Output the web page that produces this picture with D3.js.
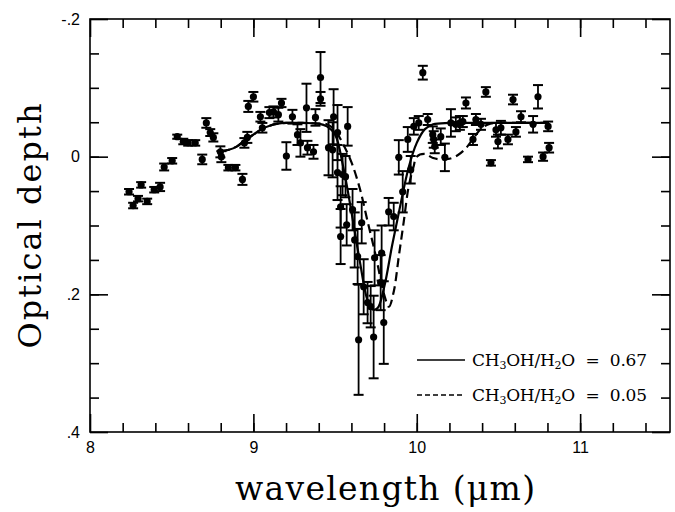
<!DOCTYPE html>
<html>
<head>
<meta charset="utf-8">
<script src="https://cdn.jsdelivr.net/npm/d3@7"></script>
<style>
body { margin: 0; background: #fff; }
</style>
</head>
<body>
<div id="chart"></div>
<script>
const wavelength = [8.239, 8.264, 8.313, 8.294, 8.350, 8.393, 8.429, 8.454, 8.503, 8.534,
    8.571, 8.601, 8.644, 8.687, 8.712, 8.736, 8.755, 8.798, 8.804, 8.847,
    8.890, 8.933, 8.945, 8.963, 8.969, 9.000, 9.043, 9.055, 9.098, 9.123,
    9.153, 9.172, 9.239, 9.202, 9.270, 9.288, 9.325, 9.331, 9.368, 9.380,
    9.411, 9.411, 9.460, 9.491, 9.515, 9.577, 9.515, 9.485, 9.546, 9.564,
    9.534, 9.534, 9.571, 9.607, 9.620, 9.638, 9.663, 9.644, 9.675, 9.699,
    9.718, 9.736, 9.742, 9.785, 9.779, 9.798, 9.828, 9.859, 9.890, 9.914,
    9.945, 9.963, 9.982, 10.012, 10.067, 10.104, 10.037, 10.098, 10.110, 10.147,
    10.172, 10.209, 10.239, 10.264, 10.282, 10.301, 10.344, 10.362, 10.393, 10.423,
    10.454, 10.485, 10.497, 10.515, 10.558, 10.589, 10.607, 10.638, 10.681, 10.712,
    10.742, 10.773, 10.804, 10.810];
const depth = [0.051, 0.071, 0.041, 0.061, 0.065, 0.048, 0.044, 0.015, 0.006, -0.029,
    -0.022, -0.020, -0.020, 0.004, -0.049, -0.035, -0.028, -0.007, 0.000, 0.016,
    0.016, 0.033, -0.020, -0.028, -0.073, -0.087, -0.058, -0.042, -0.064, -0.065,
    -0.061, -0.078, -0.058, -0.001, -0.032, -0.020, -0.071, -0.013, -0.007, -0.057,
    -0.115, -0.084, -0.013, -0.058, -0.035, -0.044, 0.023, -0.010, 0.026, 0.029,
    0.073, 0.116, 0.099, 0.077, 0.121, 0.145, 0.096, 0.266, 0.189, 0.212,
    0.218, 0.262, 0.147, 0.140, 0.183, 0.241, 0.080, 0.087, 0.001, 0.051,
    -0.025, 0.019, -0.044, -0.049, -0.054, -0.025, -0.122, -0.032, -0.015, -0.029,
    0.001, -0.049, -0.047, -0.049, -0.051, -0.078, -0.025, -0.054, -0.047, -0.094,
    0.009, -0.039, -0.022, -0.042, -0.025, -0.083, -0.036, -0.058, 0.004, -0.047,
    -0.087, 0.000, -0.044, -0.013];
const depthErr = [0.004, 0.004, 0.004, 0.004, 0.004, 0.004, 0.006, 0.005, 0.004, 0.003,
    0.004, 0.004, 0.004, 0.007, 0.007, 0.005, 0.006, 0.008, 0.008, 0.004,
    0.004, 0.008, 0.007, 0.008, 0.008, 0.007, 0.007, 0.007, 0.008, 0.008,
    0.010, 0.006, 0.010, 0.020, 0.015, 0.020, 0.035, 0.010, 0.010, 0.012,
    0.037, 0.010, 0.040, 0.040, 0.040, 0.028, 0.040, 0.040, 0.030, 0.030,
    0.030, 0.040, 0.030, 0.030, 0.040, 0.040, 0.030, 0.080, 0.040, 0.030,
    0.030, 0.060, 0.040, 0.040, 0.040, 0.060, 0.020, 0.020, 0.025, 0.030,
    0.018, 0.020, 0.012, 0.010, 0.008, 0.012, 0.010, 0.012, 0.010, 0.012,
    0.020, 0.020, 0.010, 0.010, 0.008, 0.008, 0.008, 0.008, 0.008, 0.007,
    0.004, 0.010, 0.010, 0.010, 0.007, 0.007, 0.007, 0.008, 0.004, 0.012,
    0.017, 0.006, 0.007, 0.007];

// model CH3OH/H2O = 0.67 (solid)
const solidWave = [8.80, 8.85, 8.90, 8.95, 9.00, 9.05, 9.10, 9.15, 9.20, 9.30, 9.40, 9.45,
    9.50, 9.55, 9.60, 9.65, 9.70, 9.73, 9.76, 9.80, 9.85, 9.90, 9.95, 10.00,
    10.05, 10.10, 10.20, 10.40, 10.60, 10.80];
const solidDepth = [-0.008, -0.010, -0.015, -0.024, -0.032, -0.040, -0.045, -0.048, -0.049, -0.049, -0.048, -0.044,
    -0.032, 0.015, 0.080, 0.150, 0.210, 0.222, 0.220, 0.190, 0.128, 0.070, 0.016, -0.020,
    -0.040, -0.047, -0.049, -0.049, -0.049, -0.049];

// model CH3OH/H2O = 0.05 (dashed)
const dashWave = [8.80, 8.85, 8.90, 8.95, 9.00, 9.05, 9.10, 9.15, 9.20, 9.30, 9.40, 9.45,
    9.50, 9.55, 9.60, 9.65, 9.70, 9.75, 9.80, 9.83, 9.86, 9.89, 9.92, 9.95,
    9.98, 10.00, 10.05, 10.10, 10.15, 10.20, 10.25, 10.30, 10.35, 10.40, 10.45, 10.50, 10.80];
const dashDepth = [-0.008, -0.010, -0.015, -0.024, -0.032, -0.040, -0.045, -0.048, -0.049, -0.049, -0.048, -0.047,
    -0.038, -0.018, 0.008, 0.045, 0.095, 0.145, 0.200, 0.218, 0.195, 0.145, 0.095, 0.044,
    0.015, 0.000, -0.004, 0.002, 0.004, 0.003, -0.002, -0.012, -0.028, -0.042, -0.048, -0.049, -0.049];

const xTicks = [8, 9, 10, 11];
const xTickLabels = ['8', '9', '10', '11'];
const yTicks = [-0.2, 0, 0.2, 0.4];
const yTickLabels = ['-.2', '0', '.2', '.4'];
const legendLabels = ['0.67', '0.05'];

const width = 675, height = 512;
const plotL = 90, plotR = 670, plotT = 19, plotB = 432;

const svg = d3.select('#chart').append('svg')
    .attr('width', width)
    .attr('height', height);

const x = d3.scaleLinear().domain([8, 11.55]).range([plotL, plotR]);
const y = d3.scaleLinear().domain([-0.2, 0.4]).range([plotT, plotB]);

// frame
svg.append('rect')
    .attr('x', plotL).attr('y', plotT)
    .attr('width', plotR - plotL).attr('height', plotB - plotT)
    .attr('fill', 'none').attr('stroke', '#000').attr('stroke-width', 1.6);

const minorX = d3.range(8.2, 11.55, 0.2);
const minorY = d3.range(-0.15, 0.4, 0.05);

function tickAxis(axis, tx, ty, values, size) {
    const g = svg.append('g')
        .attr('transform', `translate(${tx},${ty})`)
        .call(axis.tickValues(values).tickSize(size).tickFormat(''));
    g.select('.domain').remove();
    g.selectAll('line').attr('stroke', '#000').attr('stroke-width', 1.6);
    return g;
}

tickAxis(d3.axisBottom(x), 0, plotB, minorX, -9);
tickAxis(d3.axisBottom(x), 0, plotB, xTicks, -18);
tickAxis(d3.axisTop(x), 0, plotT, minorX, -9);
tickAxis(d3.axisTop(x), 0, plotT, xTicks, -18);
tickAxis(d3.axisLeft(y), plotL, 0, minorY, -9);
tickAxis(d3.axisLeft(y), plotL, 0, yTicks, -18);
tickAxis(d3.axisRight(y), plotR, 0, minorY, -9);
tickAxis(d3.axisRight(y), plotR, 0, yTicks, -18);

// tick labels
const xLab = svg.append('g')
    .attr('transform', `translate(0,${plotB})`)
    .call(d3.axisBottom(x).tickValues(xTicks).tickSize(0).tickPadding(10)
        .tickFormat((d, i) => xTickLabels[i]));
xLab.select('.domain').remove();
xLab.selectAll('text').attr('font-family', 'Liberation Sans, Arial, sans-serif')
    .attr('font-size', 16).attr('fill', '#000');

const yLab = svg.append('g')
    .attr('transform', `translate(${plotL},0)`)
    .call(d3.axisLeft(y).tickValues(yTicks).tickSize(0).tickPadding(10)
        .tickFormat((d, i) => yTickLabels[i]));
yLab.select('.domain').remove();
yLab.selectAll('text').attr('font-family', 'Liberation Sans, Arial, sans-serif')
    .attr('font-size', 16).attr('fill', '#000');

// axis titles
svg.append('text')
    .attr('x', 385).attr('y', 500)
    .attr('text-anchor', 'middle')
    .attr('font-family', 'DejaVu Serif, serif')
    .attr('font-size', 33)
    .attr('textLength', 300).attr('lengthAdjust', 'spacing')
    .text('wavelength (\u03bcm)');

svg.append('text')
    .attr('transform', 'translate(41,226) rotate(-90)')
    .attr('text-anchor', 'middle')
    .attr('font-family', 'DejaVu Serif, serif')
    .attr('font-size', 32)
    .attr('textLength', 245).attr('lengthAdjust', 'spacing')
    .text('Optical depth');

// model curves
const line = d3.line().curve(d3.curveCatmullRom.alpha(0.5));

svg.append('path')
    .attr('d', line(solidWave.map((w, i) => [x(w), y(solidDepth[i])])))
    .attr('fill', 'none').attr('stroke', '#000').attr('stroke-width', 2.2);

svg.append('path')
    .attr('d', line(dashWave.map((w, i) => [x(w), y(dashDepth[i])])))
    .attr('fill', 'none').attr('stroke', '#000').attr('stroke-width', 2.2)
    .attr('stroke-dasharray', '9,5');

// data with error bars
const pts = wavelength.map((w, i) => ({w: w, d: depth[i], e: depthErr[i]}));
const dataG = svg.append('g');

dataG.selectAll('line.bar').data(pts).join('line')
    .attr('class', 'bar')
    .attr('x1', d => x(d.w)).attr('x2', d => x(d.w))
    .attr('y1', d => y(d.d - d.e)).attr('y2', d => y(d.d + d.e))
    .attr('stroke', '#000').attr('stroke-width', 1.8);

['top', 'bot'].forEach(side => {
    dataG.selectAll('line.cap-' + side).data(pts).join('line')
        .attr('class', 'cap-' + side)
        .attr('x1', d => x(d.w) - 5).attr('x2', d => x(d.w) + 5)
        .attr('y1', d => y(side === 'top' ? d.d - d.e : d.d + d.e))
        .attr('y2', d => y(side === 'top' ? d.d - d.e : d.d + d.e))
        .attr('stroke', '#000').attr('stroke-width', 2);
});

dataG.selectAll('circle').data(pts).join('circle')
    .attr('cx', d => x(d.w)).attr('cy', d => y(d.d))
    .attr('r', 3.6).attr('fill', '#000');

// legend
const legend = svg.append('g');
legendLabels.forEach((lab, i) => {
    const ly = 360 + i * 35;
    legend.append('line')
        .attr('x1', 417).attr('x2', 465).attr('y1', ly).attr('y2', ly)
        .attr('stroke', '#000').attr('stroke-width', 1.4)
        .attr('stroke-dasharray', i === 1 ? '5,3' : null);
    const t = legend.append('text')
        .attr('x', 472).attr('y', ly + 6)
        .attr('font-family', 'DejaVu Serif, serif')
        .attr('font-size', 17)
        .style('white-space', 'pre')
        .attr('textLength', 175).attr('lengthAdjust', 'spacing');
    t.append('tspan').text('CH');
    t.append('tspan').attr('font-size', 11).attr('dy', 3).text('3');
    t.append('tspan').attr('dy', -3).text('OH/H');
    t.append('tspan').attr('font-size', 11).attr('dy', 3).text('2');
    t.append('tspan').attr('dy', -3).text('O  =  ' + lab);
});
</script>
</body>
</html>
